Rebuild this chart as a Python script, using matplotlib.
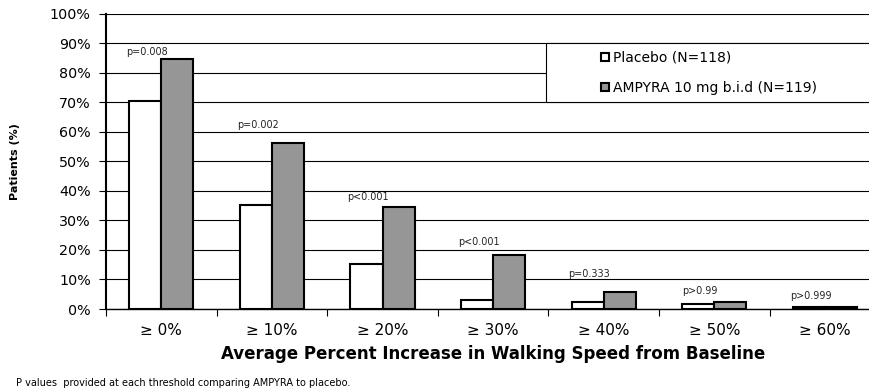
import matplotlib
matplotlib.use('Agg')
import matplotlib.pyplot as plt
import numpy as np
from matplotlib.patches import Rectangle

plt.rcParams['font.family'] = ['DejaVu Sans']

# Data
categories = ['≥ 0%', '≥ 10%', '≥ 20%', '≥ 30%', '≥ 40%', '≥ 50%', '≥ 60%']
placebo = [70.5, 35.4, 15.1, 3.2, 2.3, 1.6, 0.8]
ampyra = [84.6, 56.4, 34.5, 18.4, 5.9, 2.3, 0.8]
p_labels = ['p=0.008', 'p=0.002', 'p<0.001', 'p<0.001', 'p=0.333', 'p>0.99', 'p>0.999']
p_label_y = [87, 62.4, 38, 22.8, 11.9, 6.1, 4.5]

fig = plt.figure(figsize=(8.69, 3.92), dpi=100)
ax = fig.add_axes([0.122, 0.2117, 0.891, 0.753])

x = np.arange(len(categories))
w = 0.29
ax.bar(x - w / 2, placebo, w, color='white', edgecolor='black', linewidth=1.5,
       zorder=3, label='Placebo (N=118)')
ax.bar(x + w / 2, ampyra, w, color='#969696', edgecolor='black', linewidth=1.5,
       zorder=3, label='AMPYRA 10 mg b.i.d (N=119)')

for i, (lab, yy) in enumerate(zip(p_labels, p_label_y)):
    ax.text(i - 0.13, yy, lab, ha='center', va='center', fontsize=6.9, color='#222222')

ax.set_xlim(-0.5, 6.5)
ax.set_ylim(0, 100)
ax.set_yticks(np.arange(0, 101, 10))
ax.set_yticklabels([f'{v}%' for v in range(0, 101, 10)], fontsize=10.3)
ax.yaxis.grid(True, color='black', linewidth=0.8)
ax.set_axisbelow(True)

ax.set_xticks(x)
ax.set_xticklabels(categories, fontsize=11)
ax.tick_params(axis='x', length=0, pad=10)
ax.set_xticks(np.arange(-0.5, 7, 1), minor=True)
ax.tick_params(axis='x', which='minor', length=5, width=0.8, direction='out')
ax.tick_params(axis='y', length=5, width=0.8, direction='out', pad=6)

for s in ['top', 'right']:
    ax.spines[s].set_visible(False)
ax.spines['left'].set_linewidth(1.5)
ax.spines['bottom'].set_linewidth(1.0)

ax.set_xlabel('Average Percent Increase in Walking Speed from Baseline',
              fontsize=12, fontweight='bold', labelpad=5)
fig.text(0.017, 1 - 162 / 392, 'Patients (%)', rotation=90, ha='center', va='center',
         fontsize=8, fontweight='bold')

# legend box
ax.add_patch(Rectangle((3.48, 70), 3.6, 20, facecolor='white', edgecolor='black',
                       linewidth=0.8, zorder=2.5, clip_on=False))
ax.legend(loc='center left', bbox_to_anchor=(3.86, 80), bbox_transform=ax.transData,
          frameon=False, fontsize=10, handlelength=0.6, handleheight=0.6,
          handletextpad=0.3, labelspacing=1.15)

fig.text(0.018, 1 - 383 / 392, 'P values  provided at each threshold comparing AMPYRA to placebo.',
         fontsize=7, va='center', ha='left')

fig.savefig('out.png', dpi=100)
